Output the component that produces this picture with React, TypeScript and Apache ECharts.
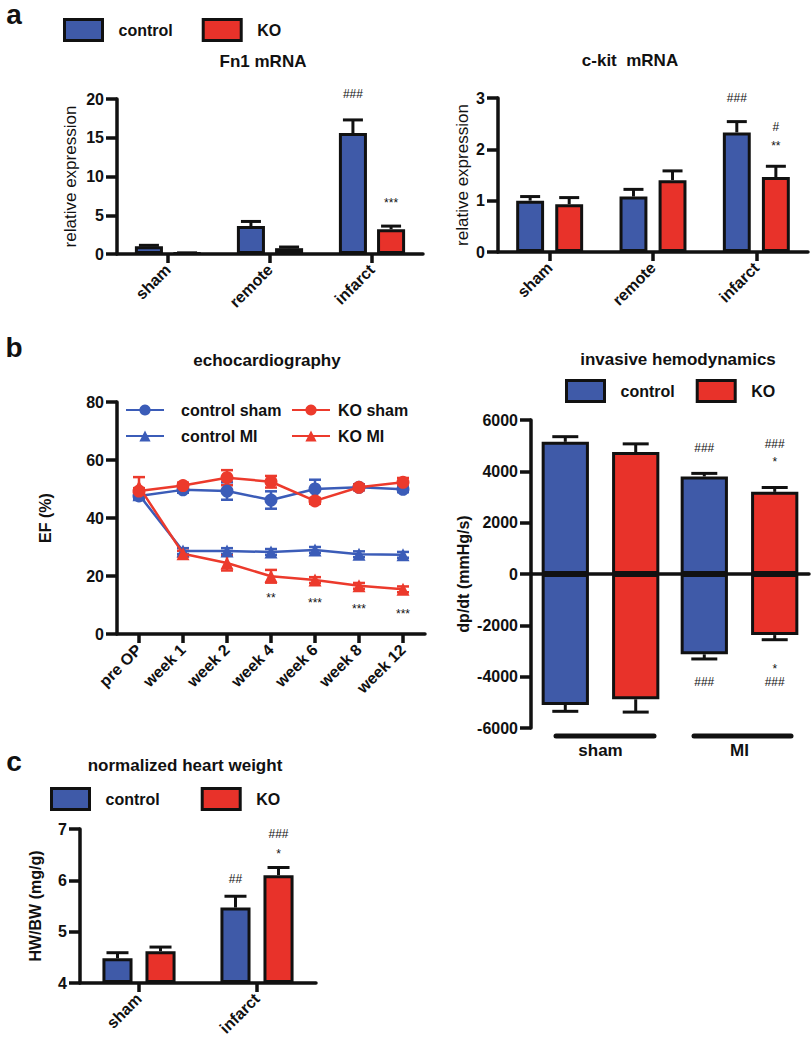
import React, { useEffect, useRef } from "react";
import * as echarts from "echarts";

const BLUE = "#3f5aa8";
const RED = "#e8322a";
const LBLUE = "#3b5cb8";
const LRED = "#ec3a2c";
const INK = "#111111";
const FONT = '"Liberation Sans", Arial, Helvetica, sans-serif';

// ---- panel a ----
const regions = ["sham", "remote", "infarct"];
const fn1Control = [1.0, 3.6, 15.6];
const fn1ControlErr = [0.12, 0.6, 1.7];
const fn1KO = [0.1, 0.75, 3.2];
const fn1KOErr = [0.05, 0.15, 0.4];
const fn1Annot: [number, number, number, string][] = [
  [2, 0, 20.6, "###"],
  [2, 1, 6.6, "***"],
];

const ckitControl = [1.0, 1.08, 2.33];
const ckitControlErr = [0.08, 0.14, 0.21];
const ckitKO = [0.93, 1.4, 1.46];
const ckitKOErr = [0.13, 0.18, 0.21];
const ckitAnnot: [number, number, number, string][] = [
  [2, 0, 3.0, "###"],
  [2, 1, 2.44, "#"],
  [2, 1, 2.07, "**"],
];

// ---- panel b: echocardiography ----
const timepoints = ["pre OP", "week 1", "week 2", "week 4", "week 6", "week 8", "week 12"];
const efControlSham = [47.6, 49.7, 49.3, 46.2, 50.0, 50.6, 49.9];
const efControlShamErr = [1, 1, 3, 3, 3.2, 1, 1];
const efKOSham = [49.3, 51.2, 53.9, 52.5, 45.9, 50.6, 52.3];
const efKOShamErr = [1, 1, 2.6, 2, 1, 1, 1.5];
const efControlMI = [48.0, 28.6, 28.6, 28.3, 29.0, 27.5, 27.3];
const efControlMIErr = [1, 1, 1, 1, 1, 1, 1];
const efKOMI = [50.8, 27.7, 24.5, 19.9, 18.6, 16.6, 15.4];
const efKOMIErr = [3.3, 1, 2.6, 2.2, 1, 1, 1];
const efAnnot: [number, number, number, string][] = [
  [3, -1, 12.5, "**"],
  [4, -1, 10.8, "***"],
  [5, -1, 8.7, "***"],
  [6, -1, 6.9, "***"],
];

// ---- panel b: invasive hemodynamics ----
const hemoGroups = ["sham", "MI"];
const hemoControlPos = [5150, 3800];
const hemoControlPosErr = [200, 120];
const hemoKOPos = [4750, 3200];
const hemoKOPosErr = [320, 170];
const hemoControlNeg = [-5100, -3130];
const hemoControlNegErr = [250, 180];
const hemoKONeg = [-4880, -2380];
const hemoKONegErr = [500, 180];
const hemoAnnot: [number, number, number, string][] = [
  [1, 0, 4900, "###"],
  [1, 1, 5080, "###"],
  [1, 1, 4350, "*"],
  [1, 0, -4200, "###"],
  [1, 1, -3700, "*"],
  [1, 1, -4200, "###"],
];

// ---- panel c ----
const hwGroups = ["sham", "infarct"];
const hwControl = [4.48, 5.47];
const hwControlErr = [0.11, 0.22];
const hwKO = [4.62, 6.1];
const hwKOErr = [0.08, 0.15];
const hwAnnot: [number, number, number, string][] = [
  [1, 0, 6.03, "##"],
  [1, 1, 6.91, "###"],
  [1, 1, 6.51, "*"],
];

function barErr(barFrac: number, gapFrac: number, slot: number, cap: number, dir: number) {
  return (params: any, api: any) => {
    const c = api.value(0);
    const v = api.value(1);
    const e = api.value(2);
    const band = api.size([1, 0])[0];
    const w = band * barFrac;
    const off = (slot - 0.5) * w * (1 + gapFrac);
    const p0 = api.coord([c, v]);
    const p1 = api.coord([c, v + dir * e]);
    const x = p0[0] + off;
    const st = { stroke: INK, lineWidth: 3 };
    return {
      type: "group",
      children: [
        { type: "line", shape: { x1: x, y1: p0[1], x2: x, y2: p1[1] }, style: st },
        { type: "line", shape: { x1: x - cap / 2, y1: p1[1], x2: x + cap / 2, y2: p1[1] }, style: st },
      ],
    };
  };
}

function lineErr(color: string, cap: number) {
  return (params: any, api: any) => {
    const c = api.value(0);
    const v = api.value(1);
    const e = api.value(2);
    const pT = api.coord([c, v + e]);
    const pB = api.coord([c, v - e]);
    const x = pT[0];
    const st = { stroke: color, lineWidth: 2.5 };
    return {
      type: "group",
      children: [
        { type: "line", shape: { x1: x, y1: pT[1], x2: x, y2: pB[1] }, style: st },
        { type: "line", shape: { x1: x - cap / 2, y1: pT[1], x2: x + cap / 2, y2: pT[1] }, style: st },
        { type: "line", shape: { x1: x - cap / 2, y1: pB[1], x2: x + cap / 2, y2: pB[1] }, style: st },
      ],
    };
  };
}

function annotRender(texts: string[], barFrac: number, gapFrac: number) {
  return (params: any, api: any) => {
    const c = api.value(0);
    const slot = api.value(1);
    const v = api.value(2);
    const band = api.size([1, 0])[0];
    const w = band * barFrac;
    const off = slot < 0 ? 0 : (slot - 0.5) * w * (1 + gapFrac);
    const p = api.coord([c, v]);
    return {
      type: "text",
      x: p[0] + off,
      y: p[1],
      style: {
        text: texts[params.dataIndex],
        font: `12px ${FONT}`,
        fill: INK,
        align: "center",
        verticalAlign: "middle",
      },
    };
  };
}

const axisLine = { show: true, onZero: true, lineStyle: { color: INK, width: 3.5 } };
const tickLabel = { color: INK, fontFamily: FONT, fontWeight: "bold" as const, fontSize: 16 };

function catAxis(grid: number, data: string[], extra: any = {}) {
  return {
    type: "category",
    gridIndex: grid,
    data,
    axisLine,
    axisTick: { show: true, alignWithLabel: true, length: 9, lineStyle: { color: INK, width: 3.5 } },
    axisLabel: { ...tickLabel, rotate: 45, margin: 13 },
    splitLine: { show: false },
    ...extra,
  };
}

function valAxis(grid: number, min: number, max: number, interval: number, name: string, nameGap: number, bold: boolean, extra: any = {}) {
  return {
    type: "value",
    gridIndex: grid,
    min,
    max,
    interval,
    name,
    nameLocation: "middle",
    nameRotate: 90,
    nameGap,
    nameTextStyle: { color: INK, fontFamily: FONT, fontSize: bold ? 16 : 17, fontWeight: bold ? "bold" : "normal" },
    axisLine: { show: true, onZero: false, lineStyle: { color: INK, width: 3.5 } },
    axisTick: { show: true, length: 11, lineStyle: { color: INK, width: 3.5 } },
    axisLabel: { ...tickLabel, margin: 13, formatter: (v: number) => String(v) },
    splitLine: { show: false },
    ...extra,
  };
}

function barSeries(name: string, color: string, x: number, data: number[], bw: string, gap: string, stack?: string) {
  return {
    type: "bar",
    name,
    xAxisIndex: x,
    yAxisIndex: x,
    data,
    stack,
    barWidth: bw,
    barGap: gap,
    clip: true,
    itemStyle: { color, borderColor: INK, borderWidth: 3 },
    emphasis: { disabled: true },
    z: 2,
  };
}

function errSeries(x: number, vals: number[], errs: number[], render: any) {
  return {
    type: "custom",
    xAxisIndex: x,
    yAxisIndex: x,
    data: vals.map((v, i) => [i, v, errs[i]]),
    encode: { x: 0, y: 1 },
    renderItem: render,
    silent: true,
    z: 1,
  };
}

function annotSeries(x: number, ann: [number, number, number, string][], barFrac: number, gapFrac: number) {
  return {
    type: "custom",
    xAxisIndex: x,
    yAxisIndex: x,
    data: ann.map((a) => [a[0], a[1], a[2]]),
    encode: { x: 0, y: 2 },
    renderItem: annotRender(ann.map((a) => a[3]), barFrac, gapFrac),
    silent: true,
    z: 5,
  };
}

function lineSeries(name: string, color: string, symbol: string, data: number[], z: number) {
  return {
    type: "line",
    name,
    xAxisIndex: 2,
    yAxisIndex: 2,
    data,
    symbol,
    symbolSize: 13,
    lineStyle: { color, width: 2.5 },
    itemStyle: { color },
    emphasis: { disabled: true },
    z,
  };
}

function barLegend(left: number, top: number, gap: number) {
  return {
    data: ["control", "KO"],
    left,
    top,
    padding: 0,
    orient: "horizontal",
    itemWidth: 38,
    itemHeight: 21,
    itemGap: gap,
    icon: "rect",
    selectedMode: false,
    itemStyle: { borderColor: INK, borderWidth: 3 },
    formatter: "{p|{name}}",
    textStyle: {
      color: INK,
      fontFamily: FONT,
      fontWeight: "bold",
      fontSize: 16,
      rich: { p: { padding: [0, 0, 0, 11], color: INK, fontFamily: FONT, fontWeight: "bold", fontSize: 16 } },
    },
  };
}

function lineLegend(left: number, top: number, names: string[], pad: number) {
  return {
    data: names,
    left,
    top,
    padding: 0,
    orient: "vertical",
    itemWidth: 38,
    itemHeight: 14,
    itemGap: 10,
    selectedMode: false,
    formatter: "{p|{name}}",
    textStyle: {
      color: INK,
      fontFamily: FONT,
      fontWeight: "bold",
      fontSize: 16,
      rich: { p: { padding: [0, 0, 0, pad], color: INK, fontFamily: FONT, fontWeight: "bold", fontSize: 16 } },
    },
  };
}

function label(text: string, x: number, y: number, size: number, weight = "bold") {
  return {
    type: "text",
    x,
    y,
    silent: true,
    style: {
      text,
      font: `${weight} ${size}px ${FONT}`,
      fill: INK,
      align: "center",
      verticalAlign: "middle",
    },
  };
}

export default function App() {
  const ref = useRef<HTMLDivElement>(null);

  useEffect(() => {
    if (!ref.current) return;
    const chart = echarts.init(ref.current, null, { renderer: "svg", width: 811, height: 1050 });

    const option: any = {
      animation: false,
      backgroundColor: "#ffffff",
      textStyle: { fontFamily: FONT },
      grid: [
        { left: 117, top: 99, width: 306, height: 155, outerBoundsMode: "none" },
        { left: 498, top: 98, width: 310, height: 154, outerBoundsMode: "none" },
        { left: 117, top: 402, width: 308, height: 232, outerBoundsMode: "none" },
        { left: 531, top: 420, width: 278, height: 308, outerBoundsMode: "none" },
        { left: 80, top: 829, width: 236, height: 154, outerBoundsMode: "none" },
      ],
      xAxis: [
        catAxis(0, regions),
        catAxis(1, regions),
        catAxis(2, timepoints),
        catAxis(3, hemoGroups, { axisTick: { show: false }, axisLabel: { show: false } }),
        catAxis(4, hwGroups),
        {
          type: "category",
          gridIndex: 3,
          data: hemoGroups,
          position: "bottom",
          axisLine: { show: false, onZero: false },
          axisTick: { show: false },
          axisLabel: { ...tickLabel, fontSize: 17, margin: 14 },
          splitLine: { show: false },
        },
      ],
      yAxis: [
        valAxis(0, 0, 20, 5, "relative expression", 38, false),
        valAxis(1, 0, 3, 1, "relative expression", 27, false),
        valAxis(2, 0, 80, 20, "EF (%)", 64, true),
        valAxis(3, -6000, 6000, 2000, "dp/dt (mmHg/s)", 60, true),
        valAxis(4, 4, 7, 1, "HW/BW (mg/g)", 37, true, { startValue: 4 }),
      ],
      legend: [
        barLegend(63, 18, 29),
        barLegend(565, 379, 21),
        barLegend(50, 787, 41),
        lineLegend(125, 402, ["control sham", "control MI"], 12),
        lineLegend(291, 402, ["KO sham", "KO MI"], 3),
      ],
      series: [
        // Fn1
        barSeries("control", BLUE, 0, fn1Control, "27.5%", "36%"),
        barSeries("KO", RED, 0, fn1KO, "27.5%", "36%"),
        errSeries(0, fn1Control, fn1ControlErr, barErr(0.275, 0.36, 0, 20, 1)),
        errSeries(0, fn1KO, fn1KOErr, barErr(0.275, 0.36, 1, 20, 1)),
        annotSeries(0, fn1Annot, 0.275, 0.36),
        // c-kit
        barSeries("control", BLUE, 1, ckitControl, "27%", "40%"),
        barSeries("KO", RED, 1, ckitKO, "27%", "40%"),
        errSeries(1, ckitControl, ckitControlErr, barErr(0.27, 0.4, 0, 20, 1)),
        errSeries(1, ckitKO, ckitKOErr, barErr(0.27, 0.4, 1, 20, 1)),
        annotSeries(1, ckitAnnot, 0.27, 0.4),
        // echo
        lineSeries("control sham", LBLUE, "circle", efControlSham, 3),
        lineSeries("control MI", LBLUE, "triangle", efControlMI, 3),
        lineSeries("KO sham", LRED, "circle", efKOSham, 4),
        lineSeries("KO MI", LRED, "triangle", efKOMI, 4),
        errSeries(2, efControlSham, efControlShamErr, lineErr(LBLUE, 12)),
        errSeries(2, efControlMI, efControlMIErr, lineErr(LBLUE, 12)),
        errSeries(2, efKOSham, efKOShamErr, lineErr(LRED, 12)),
        errSeries(2, efKOMI, efKOMIErr, lineErr(LRED, 12)),
        annotSeries(2, efAnnot, 0, 0),
        // hemodynamics
        barSeries("control", BLUE, 3, hemoControlPos, "34%", "49%", "c"),
        barSeries("control", BLUE, 3, hemoControlNeg, "34%", "49%", "c"),
        barSeries("KO", RED, 3, hemoKOPos, "34%", "49%", "k"),
        barSeries("KO", RED, 3, hemoKONeg, "34%", "49%", "k"),
        errSeries(3, hemoControlPos, hemoControlPosErr, barErr(0.34, 0.49, 0, 26, 1)),
        errSeries(3, hemoKOPos, hemoKOPosErr, barErr(0.34, 0.49, 1, 26, 1)),
        errSeries(3, hemoControlNeg, hemoControlNegErr, barErr(0.34, 0.49, 0, 26, -1)),
        errSeries(3, hemoKONeg, hemoKONegErr, barErr(0.34, 0.49, 1, 26, -1)),
        annotSeries(3, hemoAnnot, 0.34, 0.49),
        // heart weight
        barSeries("control", BLUE, 4, hwControl, "25.5%", "43%"),
        barSeries("KO", RED, 4, hwKO, "25.5%", "43%"),
        errSeries(4, hwControl, hwControlErr, barErr(0.255, 0.43, 0, 22, 1)),
        errSeries(4, hwKO, hwKOErr, barErr(0.255, 0.43, 1, 22, 1)),
        annotSeries(4, hwAnnot, 0.255, 0.43),
      ],
      graphic: [
        label("a", 14, 14, 28),
        label("b", 14, 347, 28),
        label("c", 14, 761, 28),
        label("Fn1 mRNA", 263, 61, 17),
        label("c-kit  mRNA", 630, 60, 17),
        label("echocardiography", 267, 360, 17),
        label("invasive hemodynamics", 678, 359, 17),
        label("normalized heart weight", 185, 765, 17),
        {
          type: "line",
          silent: true,
          shape: { x1: 556, y1: 736, x2: 654, y2: 736 },
          style: { stroke: INK, lineWidth: 5, lineCap: "round" },
        },
        {
          type: "line",
          silent: true,
          shape: { x1: 694, y1: 736, x2: 791, y2: 736 },
          style: { stroke: INK, lineWidth: 5, lineCap: "round" },
        },
      ],
    };

    chart.setOption(option);
    return () => {
      chart.dispose();
    };
  }, []);

  return (
    <div
      ref={ref}
      style={{ position: "absolute", left: 0, top: 0, width: 811, height: 1050, background: "#ffffff" }}
    />
  );
}
